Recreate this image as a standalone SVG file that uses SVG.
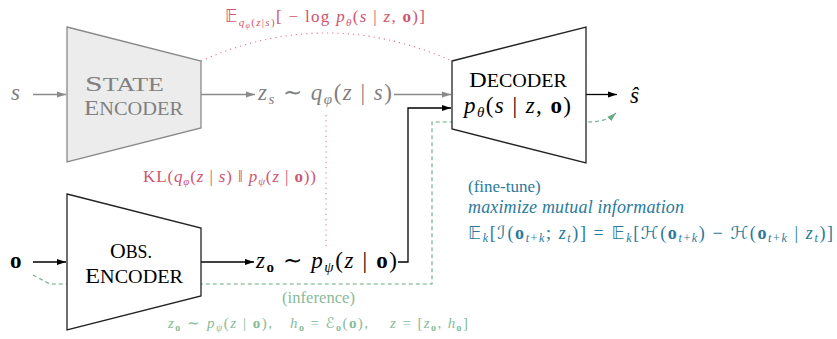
<svg xmlns="http://www.w3.org/2000/svg" width="837" height="339" viewBox="0 0 837 339">
<style>
text{font-family:'Liberation Serif','Times New Roman',serif;}
.i{font-style:italic;}
.b{font-weight:bold;}
.sym{font-family:'DejaVu Sans',sans-serif;font-style:normal;}
.red{fill:#d0566e;}
.blue{fill:#2b7a9b;}
.green{fill:#86bb98;}
.gray{fill:#808080;}
.k{fill:#000;}
.ln-g{stroke:#8a8a8a;stroke-width:1.3;fill:none;}
.ln-k{stroke:#000;stroke-width:1.3;fill:none;}
.dash{stroke:#6aa886;stroke-width:1.1;fill:none;stroke-dasharray:4 3;}
.dot{stroke:#e07890;stroke-width:1.1;fill:none;stroke-dasharray:1.2 4;}
</style>
<defs>
<marker id="ag" markerUnits="userSpaceOnUse" markerWidth="9" markerHeight="7" viewBox="0 0 9 7" refX="9" refY="3.5" orient="auto"><path d="M0,0.6 L9,3.5 L0,6.4 z" fill="#8a8a8a"/></marker>
<marker id="ak" markerUnits="userSpaceOnUse" markerWidth="9" markerHeight="7" viewBox="0 0 9 7" refX="9" refY="3.5" orient="auto"><path d="M0,0.6 L9,3.5 L0,6.4 z" fill="#000"/></marker>
<marker id="agr" markerUnits="userSpaceOnUse" markerWidth="9" markerHeight="7" viewBox="0 0 9 7" refX="9" refY="3.5" orient="auto"><path d="M0,0.6 L9,3.5 L0,6.4 z" fill="#6aa886"/></marker>
</defs>

<g id="connectors">
<path class="dot" d="M201,61 Q326,5 452,61"/>
<line class="dot" x1="326" y1="115" x2="326" y2="250"/>
<path class="dash" d="M33,275 L50,284 H432 V122 H452"/>
<path class="dash" d="M588,122 Q606,122 616,113" marker-end="url(#agr)"/>
<line class="ln-g" x1="33" y1="94.5" x2="66" y2="94.5" marker-end="url(#ag)"/>
<line class="ln-g" x1="201" y1="94.5" x2="255" y2="94.5" marker-end="url(#ag)"/>
<line class="ln-g" x1="394" y1="94.5" x2="451" y2="94.5" marker-end="url(#ag)"/>
<line class="ln-k" x1="586" y1="94.5" x2="617" y2="94.5" marker-end="url(#ak)"/>
<line class="ln-k" x1="33" y1="262" x2="66" y2="262" marker-end="url(#ak)"/>
<line class="ln-k" x1="201" y1="262" x2="254" y2="262" marker-end="url(#ak)"/>
<path class="ln-k" d="M398,262 H408 V108 H451" marker-end="url(#ak)"/>
</g>

<g id="state-encoder">
<polygon points="67,27 201,61 201,128 67,162" fill="#ececec" stroke="#8a8a8a" stroke-width="1.3"/>
<text class="gray" x="85" y="90.5" font-size="22" textLength="79" lengthAdjust="spacingAndGlyphs">S<tspan font-size="18">TATE</tspan></text>
<text class="gray" x="84" y="115" font-size="22" textLength="99" lengthAdjust="spacingAndGlyphs">E<tspan font-size="18">NCODER</tspan></text>
</g>

<g id="decoder">
<polygon points="452,61 586,27 586,163 452,129" fill="#fff" stroke="#222" stroke-width="1.3"/>
<text class="k" x="469" y="87" font-size="22" textLength="98" lengthAdjust="spacingAndGlyphs">D<tspan font-size="18">ECODER</tspan></text>
<text class="k" x="464" y="113" font-size="23" textLength="107"><tspan class="i">p</tspan><tspan class="i" font-size="15" dy="4">θ</tspan><tspan dy="-4">(</tspan><tspan class="i">s</tspan> | <tspan class="i">z</tspan>, <tspan class="b">o</tspan>)</text>
</g>

<g id="obs-encoder">
<polygon points="67,194 201,228 201,296 67,330" fill="#fff" stroke="#222" stroke-width="1.3"/>
<text class="k" x="110" y="257.5" font-size="22" textLength="42" lengthAdjust="spacingAndGlyphs">O<tspan font-size="18">BS.</tspan></text>
<text class="k" x="85" y="282.5" font-size="22" textLength="98" lengthAdjust="spacingAndGlyphs">E<tspan font-size="18">NCODER</tspan></text>
</g>

<g id="labels">
<text class="i gray" x="11" y="100" font-size="23">s</text>
<text class="b k" x="10" y="268" font-size="23">o</text>
<text class="i k" x="630" y="103" font-size="23">ŝ</text>

<text class="gray" x="258" y="100" font-size="23" textLength="134"><tspan class="i">z</tspan><tspan class="i" font-size="15" dy="4">s</tspan><tspan dy="-4"> ∼ </tspan><tspan class="i">q</tspan><tspan class="i" font-size="15" dy="4">φ</tspan><tspan dy="-4">(</tspan><tspan class="i">z</tspan> | <tspan class="i">s</tspan>)</text>

<text class="k" x="256" y="268" font-size="23" textLength="141"><tspan class="i">z</tspan><tspan class="b" font-size="15" dy="4">o</tspan><tspan dy="-4"> ∼ </tspan><tspan class="i">p</tspan><tspan class="i" font-size="15" dy="4">ψ</tspan><tspan dy="-4">(</tspan><tspan class="i">z</tspan> | <tspan class="b">o</tspan>)</text>

<text class="red" x="225" y="22" font-size="17" textLength="200"><tspan class="sym">𝔼</tspan><tspan class="i" font-size="11" dy="4">q</tspan><tspan class="i" font-size="8" dy="2">φ</tspan><tspan font-size="11" dy="-2">(</tspan><tspan class="i" font-size="11">z</tspan><tspan font-size="11">|</tspan><tspan class="i" font-size="11">s</tspan><tspan font-size="11">)</tspan><tspan dy="-4">[ − log </tspan><tspan class="i">p</tspan><tspan class="i" font-size="11" dy="4">θ</tspan><tspan dy="-4">(</tspan><tspan class="i">s</tspan> | <tspan class="i">z</tspan>, <tspan class="b">o</tspan>)]</text>

<text class="red" x="143" y="182" font-size="17" textLength="173">KL(<tspan class="i">q</tspan><tspan class="i" font-size="11" dy="3">φ</tspan><tspan dy="-3">(</tspan><tspan class="i">z</tspan> | <tspan class="i">s</tspan>) ‖ <tspan class="i">p</tspan><tspan class="i" font-size="11" dy="3">ψ</tspan><tspan dy="-3">(</tspan><tspan class="i">z</tspan> | <tspan class="b">o</tspan>))</text>

<text class="blue" x="468" y="192" font-size="17">(fine-tune)</text>
<text class="i blue" x="468" y="213" font-size="18" textLength="216">maximize mutual information</text>
<text class="blue" x="468" y="239" font-size="18" textLength="365"><tspan class="sym">𝔼</tspan><tspan class="i" font-size="12" dy="3">k</tspan><tspan dy="-3">[</tspan><tspan class="sym">ℐ</tspan>(<tspan class="b">o</tspan><tspan class="i" font-size="12" dy="3">t</tspan><tspan font-size="12">+</tspan><tspan class="i" font-size="12">k</tspan><tspan dy="-3">; </tspan><tspan class="i">z</tspan><tspan class="i" font-size="12" dy="3">t</tspan><tspan dy="-3">)] = </tspan><tspan class="sym">𝔼</tspan><tspan class="i" font-size="12" dy="3">k</tspan><tspan dy="-3">[</tspan><tspan class="sym">ℋ</tspan>(<tspan class="b">o</tspan><tspan class="i" font-size="12" dy="3">t</tspan><tspan font-size="12">+</tspan><tspan class="i" font-size="12">k</tspan><tspan dy="-3">) − </tspan><tspan class="sym">ℋ</tspan>(<tspan class="b">o</tspan><tspan class="i" font-size="12" dy="3">t</tspan><tspan font-size="12">+</tspan><tspan class="i" font-size="12">k</tspan><tspan dy="-3"> | </tspan><tspan class="i">z</tspan><tspan class="i" font-size="12" dy="3">t</tspan><tspan dy="-3">)]</tspan></text>

<text class="green" x="282" y="303" font-size="16.5" textLength="73">(inference)</text>
<text class="green" x="168" y="328" font-size="15" textLength="104"><tspan class="i">z</tspan><tspan class="b" font-size="10" dy="3">o</tspan><tspan dy="-3"> ∼ </tspan><tspan class="i">p</tspan><tspan class="i" font-size="10" dy="3">ψ</tspan><tspan dy="-3">(</tspan><tspan class="i">z</tspan> | <tspan class="b">o</tspan>),</text>
<text class="green" x="290" y="328" font-size="15" textLength="78"><tspan class="i">h</tspan><tspan class="b" font-size="10" dy="3">o</tspan><tspan dy="-3"> = </tspan><tspan class="sym">ℰ</tspan><tspan class="b" font-size="10" dy="3">o</tspan><tspan dy="-3">(</tspan><tspan class="b">o</tspan>),</text>
<text class="green" x="390" y="328" font-size="15" textLength="78"><tspan class="i">z</tspan> = [<tspan class="i">z</tspan><tspan class="b" font-size="10" dy="3">o</tspan><tspan dy="-3">, </tspan><tspan class="i">h</tspan><tspan class="b" font-size="10" dy="3">o</tspan><tspan dy="-3">]</tspan></text>
</g>
</svg>
